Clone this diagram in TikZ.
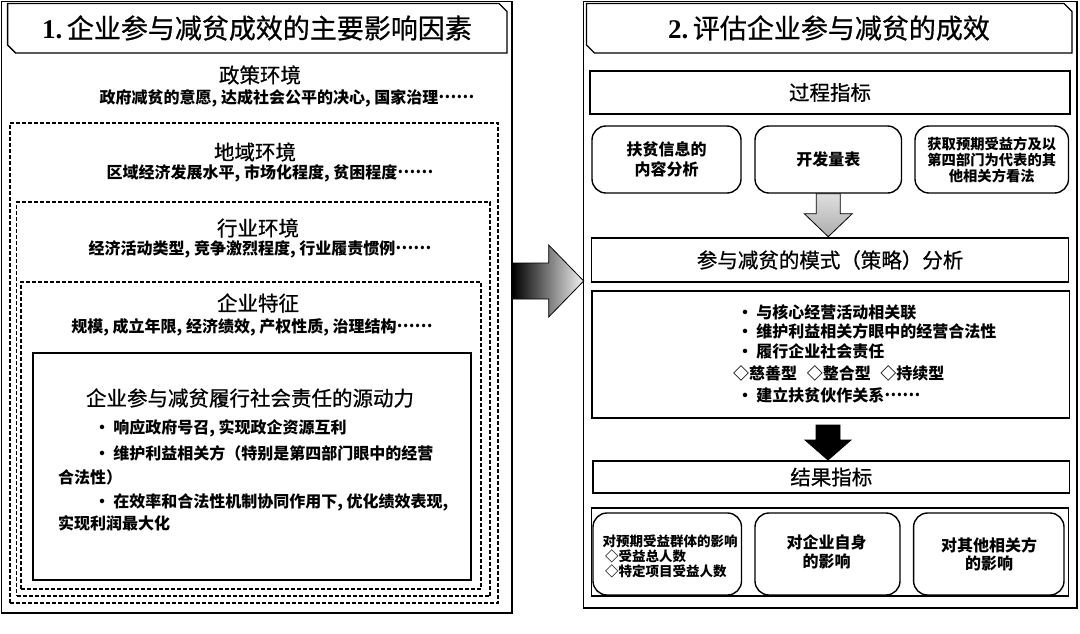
\documentclass[tikz,border=0pt]{standalone}
\usepackage{fontspec}
\setmainfont{Noto Sans CJK SC}
\newfontfamily\numfont{Liberation Serif}
\newfontfamily\medfont{Noto Sans CJK SC}[FakeBold=0.7]
\usetikzlibrary{calc,fit}
\newcommand\dddots{\raisebox{0.3em}{……}}
\newcommand\bul{•\hspace{0.2em}}
\tikzset{
  box/.style={draw, line width=1.4pt, inner sep=0pt},
  rbox/.style={box, rounded corners=14pt},
  dbox/.style={draw, line width=1.6pt, dash pattern=on 4pt off 2pt, inner sep=0pt},
  hdr/.style={draw, line width=1.4pt},
  hdt/.style={inner sep=0pt, font=\medfont\fontsize{27}{30}\selectfont},
  ttl/.style={inner sep=0pt, font=\medfont\fontsize{20.5}{24}\selectfont},
  sm/.style={inner sep=0pt, font=\bfseries\fontsize{16}{20}\selectfont},
  smw/.style={sm, anchor=west},
  arr/.style={draw=black, line width=0.8pt},
}
\begin{document}
\begin{tikzpicture}[x=1pt,y=-1pt]
\useasboundingbox (0,0) rectangle (1080,633);
\fill[white] (0,0) rectangle (1080,633);

% ---------------- Left panel ----------------
\node[box, fit={(1.5,1.5) (512,613)}] (L) {};
\draw[hdr] (7.6,3.5) -- (499,3.5) -- (507,11.5) -- (507,53) -- (15.6,53) -- (7.6,45) -- cycle;
\node[hdt] (hL) at (257,28) {{\numfont\bfseries 1.}\,企业参与减贫成效的主要影响因素};

\node[ttl] (pol) at (260,75) {政策环境};
\node[sm] (polt) at (287,98) {政府减贫的意愿, 达成社会公平的决心, 国家治理\dddots};

\node[dbox, fit={(10,123) (498,603)}] (D1) {};
\node[ttl] (reg) at (255,152) {地域环境};
\node[sm] (regt) at (270,173) {区域经济发展水平, 市场化程度, 贫困程度\dddots};

\node[dbox, fit={(16.5,202) (490,596)}] (D2) {};
\node[ttl] (ind) at (258,228) {行业环境};
\node[sm] (indt) at (260,249) {经济活动类型, 竞争激烈程度, 行业履责惯例\dddots};

\node[dbox, fit={(21,282) (481,589)}] (D3) {};
\node[ttl] (ent) at (258,303) {企业特征};
\node[sm] (entt) at (252,327) {规模, 成立年限, 经济绩效, 产权性质, 治理结构\dddots};

\node[box, fit={(33,353) (471,580)}] (S) {};
\node[ttl] (src) at (250,398) {企业参与减贫履行社会责任的源动力};
\node[smw] (s1) at (94,428) {\bul 响应政府号召, 实现政企资源互利};
\node[smw] (s2) at (94,453) {\bul 维护利益相关方（特别是第四部门眼中的经营};
\node[smw] (s2b) at (58,477) {合法性）};
\node[smw] (s3) at (94,502) {\bul 在效率和合法性机制协同作用下, 优化绩效表现,};
\node[smw] (s3b) at (58,523) {实现利润最大化};

% ---------------- Middle arrow ----------------
\coordinate (mA) at (L.east |- 0,281);
\shade[arr, left color=black, middle color=gray!45, right color=gray!10]
  ($(mA)+(0,-18)$) -- ($(mA)+(36,-18)$) -- ($(mA)+(36,-36)$) -- ($(mA)+(71,0)$)
  -- ($(mA)+(36,36)$) -- ($(mA)+(36,18)$) -- ($(mA)+(0,18)$) -- cycle;

% ---------------- Right panel ----------------
\node[box, fit={(583.5,1.5) (1077,608)}] (R) {};
\draw[hdr] (586.5,3.5) -- (1064,3.5) -- (1072,11.5) -- (1072,53) -- (594.5,53) -- (586.5,45) -- cycle;
\node[hdt] (hR) at (829,28) {{\numfont\bfseries 2.}\,评估企业参与减贫的成效};

\node[box, fit={(590,71) (1070,114)}] (proc) {};
\node[ttl] at (proc.center) {过程指标};

\node[rbox, fit={(592,126) (741,193)}] (pa) {};
\node[sm, align=center] at (pa.center) {扶贫信息的\\内容分析};
\node[rbox, fit={(755,126) (901.5,193)}] (pb) {};
\node[sm] at (pb.center) {开发量表};
\node[rbox, fit={(915,126) (1068.5,193)}] (pc) {};
\node[inner sep=0pt, align=center, font=\bfseries\fontsize{14.3}{16}\selectfont] at (pc.center) {获取预期受益方及以\\第四部门为代表的其\\他相关方看法};

\node[box, fit={(591.6,238) (1068.6,282)}] (mode) {};
\node[ttl] at (mode.center) {参与减贫的模式（策略）分析};

% gray arrow
\coordinate (gA) at (pb.south);
\shade[arr, top color=gray!25, bottom color=gray!65]
  ($(gA)+(-12,0)$) -- ($(gA)+(12,0)$) -- ($(gA)+(12,20)$) -- ($(gA)+(24,20)$)
  -- ($(gA)+(0,43)$) -- ($(gA)+(-24,20)$) -- ($(gA)+(-12,20)$) -- cycle;

\node[box, fit={(592,291) (1069.6,418)}] (strat) {};
\node[smw] (b1) at (737,312) {\bul 与核心经营活动相关联};
\node[smw] (b2) at (737,331) {\bul 维护利益相关方眼中的经营合法性};
\node[smw] (b3) at (737,351) {\bul 履行企业社会责任};
\node[smw] (b4) at (733,373) {◇慈善型\hspace{0.6em}◇整合型\hspace{0.6em}◇持续型};
\node[smw] (b5) at (737,395) {\bul 建立扶贫伙作关系\dddots};

% black arrow
\coordinate (bA) at (828,425);
\shade[arr, left color=black, middle color=black!45, right color=black]
  ($(bA)+(-12,0)$) -- ($(bA)+(12,0)$) -- ($(bA)+(12,15)$) -- ($(bA)+(23,15)$)
  -- ($(bA)+(0,35)$) -- ($(bA)+(-23,15)$) -- ($(bA)+(-12,15)$) -- cycle;

\node[box, fit={(593,461) (1069.6,493)}] (res) {};
\node[ttl] at (res.center) {结果指标};

\node[box, fit={(591.6,508) (1068.6,596)}] (out) {};
\node[rbox, fit={(593,513) (741.5,595)}] (oa) {};
\node[inner sep=0pt, anchor=west, font=\bfseries\fontsize{13.5}{15}\selectfont] (oa1) at (602.5,541) {对预期受益群体的影响};
\node[inner sep=0pt, anchor=west, font=\bfseries\fontsize{13.5}{15}\selectfont] (oa2) at (605,556) {◇受益总人数};
\node[inner sep=0pt, anchor=west, font=\bfseries\fontsize{13.5}{15}\selectfont] (oa3) at (605,571) {◇特定项目受益人数};
\node[rbox, fit={(755,513) (900,595)}] (ob) {};
\node[align=center, inner sep=0pt, font=\bfseries\fontsize{16}{19}\selectfont] at (826.5,552) {对企业自身\\的影响};
\node[rbox, fit={(913.6,513) (1064,595)}] (oc) {};
\node[align=center, inner sep=0pt, font=\bfseries\fontsize{16}{18}\selectfont] at (989,554) {对其他相关方\\的影响};
\end{tikzpicture}
\end{document}
